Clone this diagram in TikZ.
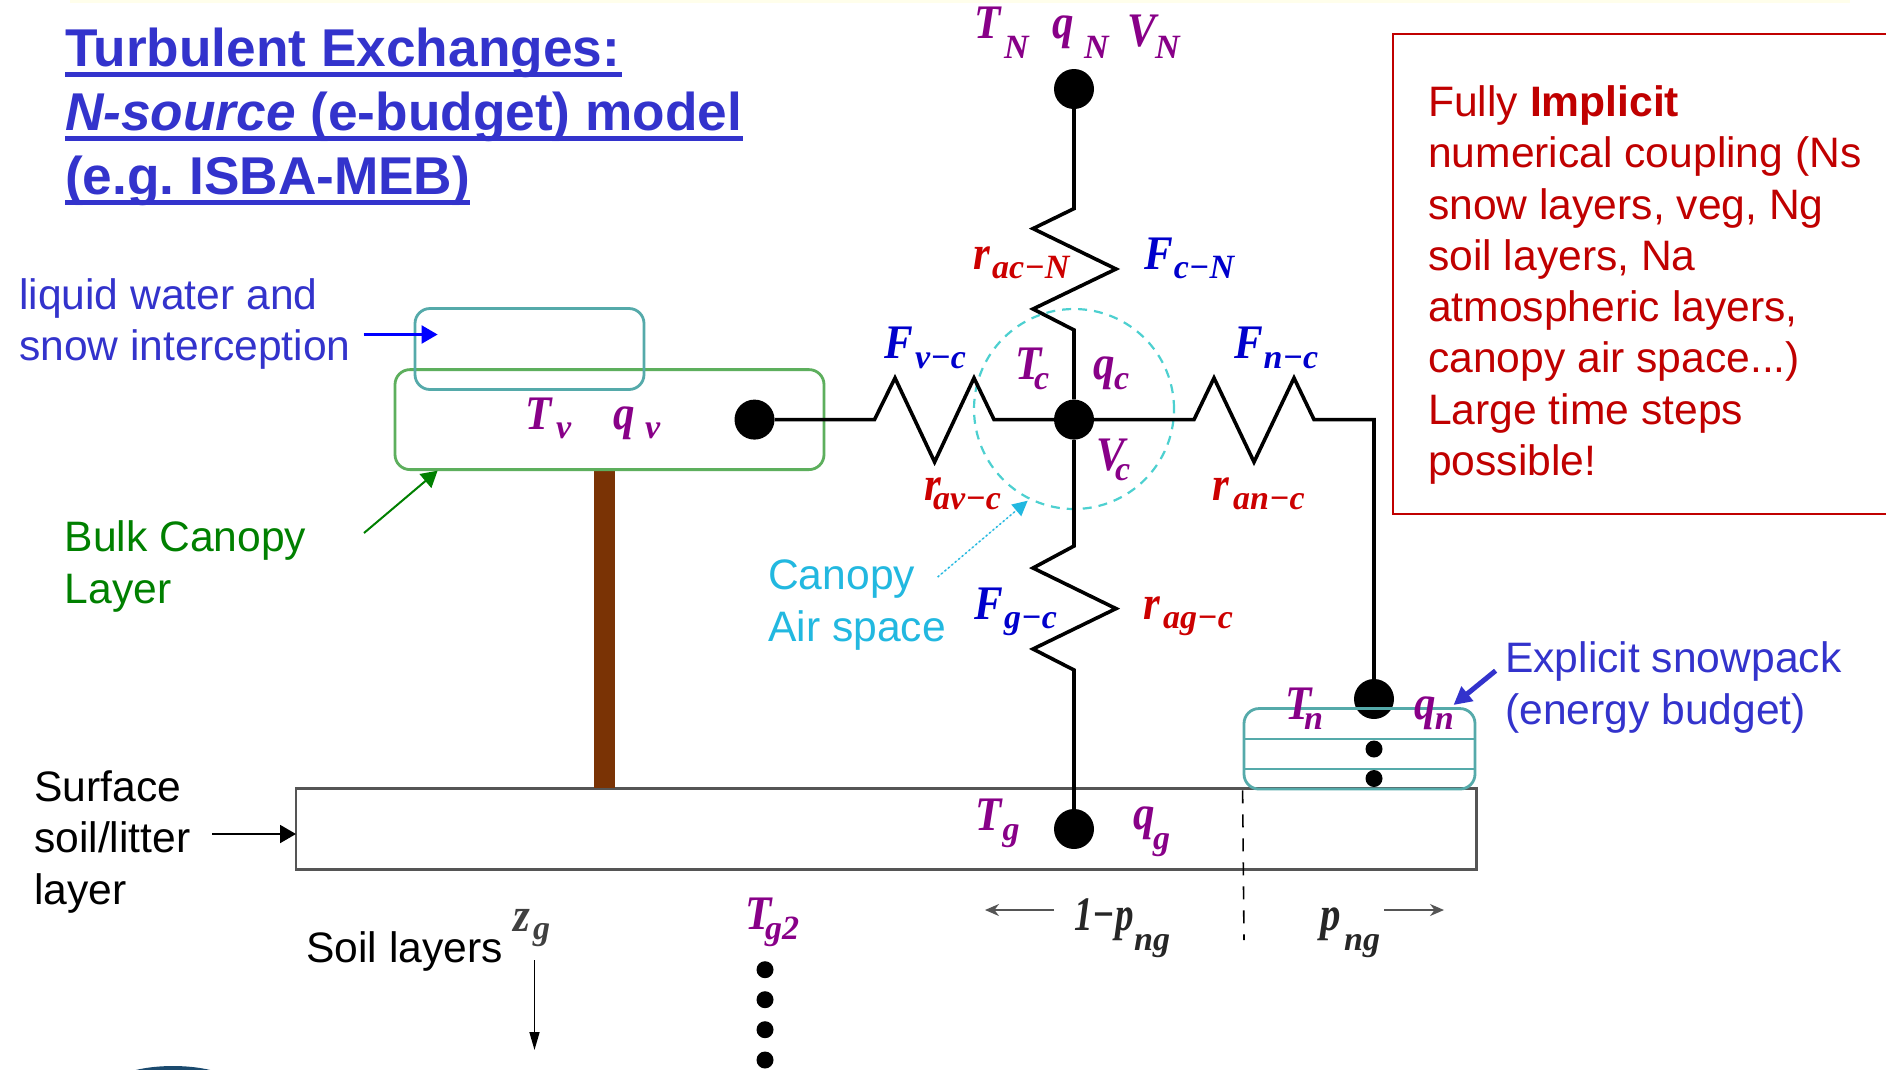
\documentclass[tikz,border=0pt]{standalone}
\usepackage{fontspec}
\usepackage{graphicx}
\setmainfont{Liberation Sans}
\newfontfamily\timesfam{Liberation Serif}
\usetikzlibrary{arrows.meta}
\definecolor{titleblue}{HTML}{3333CC}
\definecolor{redtxt}{HTML}{C00000}
\definecolor{greentxt}{HTML}{008000}
\definecolor{cyantxt}{HTML}{22B8E0}
\definecolor{tealbox}{HTML}{55AAAA}
\definecolor{greenbox}{HTML}{5DAF5D}
\definecolor{trunk}{HTML}{7A3305}
\definecolor{soilgray}{HTML}{555555}
\definecolor{labpurple}{HTML}{880088}
\definecolor{labblue}{HTML}{0000CC}
\definecolor{labred}{HTML}{CC0000}
\definecolor{circlecy}{HTML}{4DD0D0}
\definecolor{logonavy}{HTML}{1B4A6E}
\frenchspacing
\tikzset{
  x=1pt,y=-1pt,
  titletxt/.style={anchor=base west,inner sep=0pt,text=titleblue,font=\fontsize{53.2}{64}\selectfont\bfseries},
  titlerule/.style={draw=titleblue,line width=5pt},
  bodytxt/.style={anchor=base west,inner sep=0pt,align=left,font=\fontsize{42.6}{51.3}\selectfont},
  mainlab/.style={anchor=base west,inner sep=0pt,font=\fontsize{43}{43}\selectfont\timesfam\bfseries\itshape},
  wire/.style={draw=black,line width=3.6pt,line join=miter},
  bigdot/.style={circle,fill=black,inner sep=0pt,minimum size=40pt},
  smalldot/.style={circle,fill=black,inner sep=0pt,minimum size=17pt},
  tealrounded/.style={draw=tealbox,line width=2.8pt,rounded corners=15pt,inner sep=0pt},
  greenrounded/.style={draw=greenbox,line width=2.8pt,rounded corners=15pt,inner sep=0pt},
  soilline/.style={draw=soilgray,line width=3.2pt},
  ptr/.style={-{Triangle[length=16pt,width=18pt]}},
}
% name, colour, x, y, main text, x of subscript, y of subscript, subscript
\newcommand\quant[8]{%
  \node[mainlab,text=#2] (#1) at (#3,#4) {\rlap{\scalebox{1}[1.12]{#5}}\kern\dimexpr#6pt-#3pt\relax\raisebox{\dimexpr#4pt-#7pt\relax}{\fontsize{34}{34}\selectfont #8}};
}
\begin{document}
\begin{tikzpicture}
\useasboundingbox (0,0) rectangle (1886,1069);
\fill[white] (0,0) rectangle (1886,1069);
\fill[yellow!8!white] (70,0) rectangle (1850,2.5);
% bottom logo sliver
\begin{scope}
\clip (0,1000) rectangle (1886,1069);
\fill[logonavy] (173,1092) ellipse (70 and 26);
\end{scope}

% title
\node[titletxt] (t1) at (65,66) {Turbulent Exchanges:};
\node[titletxt] (t2) at (65,130) {\itshape N-source\/\upshape{} (e-budget) model};
\node[titletxt] (t3) at (65,194) {(e.g. ISBA-MEB)};
\draw[titlerule] (65,74) -- (622,74);
\draw[titlerule] (65,138) -- (743,138);
\draw[titlerule] (65,202) -- (470,202);

% canopy air space circle
\node[draw=circlecy,line width=2.2pt,dash pattern=on 9pt off 7pt,circle,minimum size=200pt,inner sep=0pt] (air) at (1074,409) {};

% soil layer
\node[draw=soilgray,line width=1.6pt,fill=white,minimum width=1179.5pt,minimum height=80pt,inner sep=0pt] (soil) at (885.75,829) {};
\draw[soilline] (soil.north west) -- (soil.north east) -- (soil.south east) -- (soil.south west);

% tree
\fill[trunk] (594,470) rectangle (615,788);
\node[greenrounded,minimum width=429pt,minimum height=100pt] (canopy) at (609.5,419.6) {};
\node[tealrounded,minimum width=229pt,minimum height=81pt] (intercept) at (529.5,349) {};

% nodes of the network
\node[bigdot] (dN) at (1074,89) {};
\node[bigdot] (dC) at (1074,419.6) {};
\node[bigdot] (dV) at (754.5,419.6) {};
\node[bigdot] (dS) at (1374,699) {};
\node[bigdot] (dG) at (1074,829) {};

\draw[wire] (dN) -- (1074,208.6) -- (1033,228.6) -- (1116,269) -- (1033,309) -- (1074,330) -- (dC);
\draw[wire] (dC) -- (1074,546) -- (1033,568) -- (1116,608.6) -- (1033,649) -- (1074,670) -- (dG);
\draw[wire] (dC) -- (994,419.6) -- (974,378) -- (934.6,462) -- (895,378) -- (874.5,419.6) -- (dV);
\draw[wire] (dC) -- (1194,419.6) -- (1214,378) -- (1254,462) -- (1294,378) -- (1314,419.6) -- (1374,419.6) -- (dS);

% snowpack
\node[tealrounded,minimum width=231pt,minimum height=80.5pt] (snow) at (1359.5,748.8) {};
\draw[draw=tealbox,line width=2.5pt] (1244,739) -- (1475,739) (1244,769) -- (1475,769);
\node[smalldot] (ds1) at (1374,749) {};
\node[smalldot] (ds2) at (1374,778.5) {};
\draw[draw=black,line width=1.6pt,dash pattern=on 13pt off 11pt] (snow.south west) -- (1244,940);

% soil dots
\node[smalldot] (dg1) at (765,969.7) {};
\node[smalldot] (dg2) at (765,999.7) {};
\node[smalldot] (dg3) at (765,1029.7) {};
\node[smalldot] (dg4) at (765,1060) {};

% quantities
\quant{TN}{labpurple}{974.5}{38}{T}{1004}{58}{N}
\quant{qN}{labpurple}{1052}{38}{q}{1084}{58}{N}
\quant{VN}{labpurple}{1127}{46}{V}{1155}{58}{N}
\quant{racN}{labred}{973}{269}{r}{992}{278.6}{ac−N}
\quant{FcN}{labblue}{1144}{269}{F}{1173.6}{278.6}{c−N}
\quant{Fvc}{labblue}{884}{358.6}{F}{915}{368}{v−c}
\quant{Tc}{labpurple}{1015.6}{379}{T}{1034}{389}{c}
\quant{qc}{labpurple}{1093}{379}{q}{1114}{389}{c}
\quant{Vc}{labpurple}{1096}{470.7}{V}{1115}{480}{c}
\quant{Fnc}{labblue}{1234}{358.6}{F}{1263.5}{368}{n−c}
\quant{ravc}{labred}{924}{500}{r}{933}{509}{av−c}
\quant{ranc}{labred}{1212}{500}{r}{1233}{509}{an−c}
\quant{Fgc}{labblue}{974.5}{619}{F}{1004}{628}{g−c}
\quant{ragc}{labred}{1143}{619}{r}{1163}{628}{ag−c}
\quant{Tn}{labpurple}{1285}{719}{T}{1304}{729}{n}
\quant{qn}{labpurple}{1414}{719}{q}{1434.6}{729}{n}
\quant{Tg}{labpurple}{975}{830}{T}{1002.5}{840}{g}
\quant{qg}{labpurple}{1133}{829}{q}{1153}{849}{g}
\quant{Tv}{labpurple}{525}{429}{T}{556}{438.6}{v}
\quant{qv}{labpurple}{613}{429}{q}{645}{438.6}{v}
\quant{Tgb}{labpurple}{745}{929}{T}{765}{939}{g2}
\quant{zg}{black!75}{513}{931}{z}{533}{939}{g}
\quant{onep}{black!85}{1074}{930}{\scalebox{.86}[1]{1−p}}{1134}{950}{ng}
\quant{png}{black!85}{1320.6}{930}{\scalebox{.95}[1]{p}}{1344}{950}{ng}

% body texts
\node[bodytxt,text=titleblue] (lq) at (19,360.5) {liquid water and\\snow interception};
\node[bodytxt,text=greentxt] (bulk) at (64.5,603) {Bulk Canopy\\Layer};
\node[bodytxt,text=cyantxt] (cas) at (768,641) {Canopy\\Air space};
\node[bodytxt,text=black] (surf) at (34,904) {Surface\\soil/litter\\layer};
\node[bodytxt,text=black] (soillay) at (306,962) {Soil layers};
\node[bodytxt,text=titleblue] (expl) at (1505,724) {Explicit snowpack\\(energy budget)};

% red note
\draw[draw=redtxt,line width=2pt] (1888,33.5) -- (1392.5,33.5) -- (1392.5,514) -- (1888,514);
\node[bodytxt,text=redtxt] (note) at (1428,475.5) {Fully \textbf{Implicit}\\numerical coupling (Ns\\snow layers, veg, Ng\\soil layers, Na\\atmospheric layers,\\canopy air space...)\\Large time steps\\possible!};

% pointers
\coordinate (a1) at (363.6,334.5);
\coordinate (a1e) at (437.6,334.5);
\draw[ptr,draw=blue,fill=blue,line width=2.2pt] (a1) -- (a1e);
\coordinate (a2) at (364,533);
\coordinate (a2e) at (437.6,470.7);
\draw[ptr,draw=greentxt,fill=greentxt,line width=2pt] (a2) -- (a2e);
\coordinate (a3) at (937.7,577);
\coordinate (a3e) at (1027.7,500.7);
\draw[-{Triangle[length=15pt,width=15pt]},draw=cyantxt,fill=cyantxt,line width=1.5pt,dash pattern=on 2pt off 2.5pt] (a3) -- (a3e);
\coordinate (a4) at (1495.6,670.7);
\coordinate (a4e) at (1453.5,705);
\draw[-{Triangle[length=18pt,width=18pt]},draw=titleblue,fill=titleblue,line width=5pt] (a4) -- (a4e);
\coordinate (a5) at (212,834);
\coordinate (a5e) at (296,834);
\draw[ptr,draw=black,fill=black,line width=2pt] (a5) -- (a5e);
\coordinate (a6) at (534.5,960);
\coordinate (a6e) at (534.5,1050);
\draw[-{Triangle[length=18pt,width=10pt]},draw=black,fill=black,line width=1.6pt] (a6) -- (a6e);
\coordinate (a7) at (1054,910);
\coordinate (a7e) at (985,910);
\draw[-{Stealth[length=14pt,width=12pt]},draw=soilgray,line width=1.8pt] (a7) -- (a7e);
\coordinate (a8) at (1384,910);
\coordinate (a8e) at (1444,910);
\draw[-{Stealth[length=14pt,width=12pt]},draw=soilgray,line width=1.8pt] (a8) -- (a8e);
\end{tikzpicture}
\end{document}
